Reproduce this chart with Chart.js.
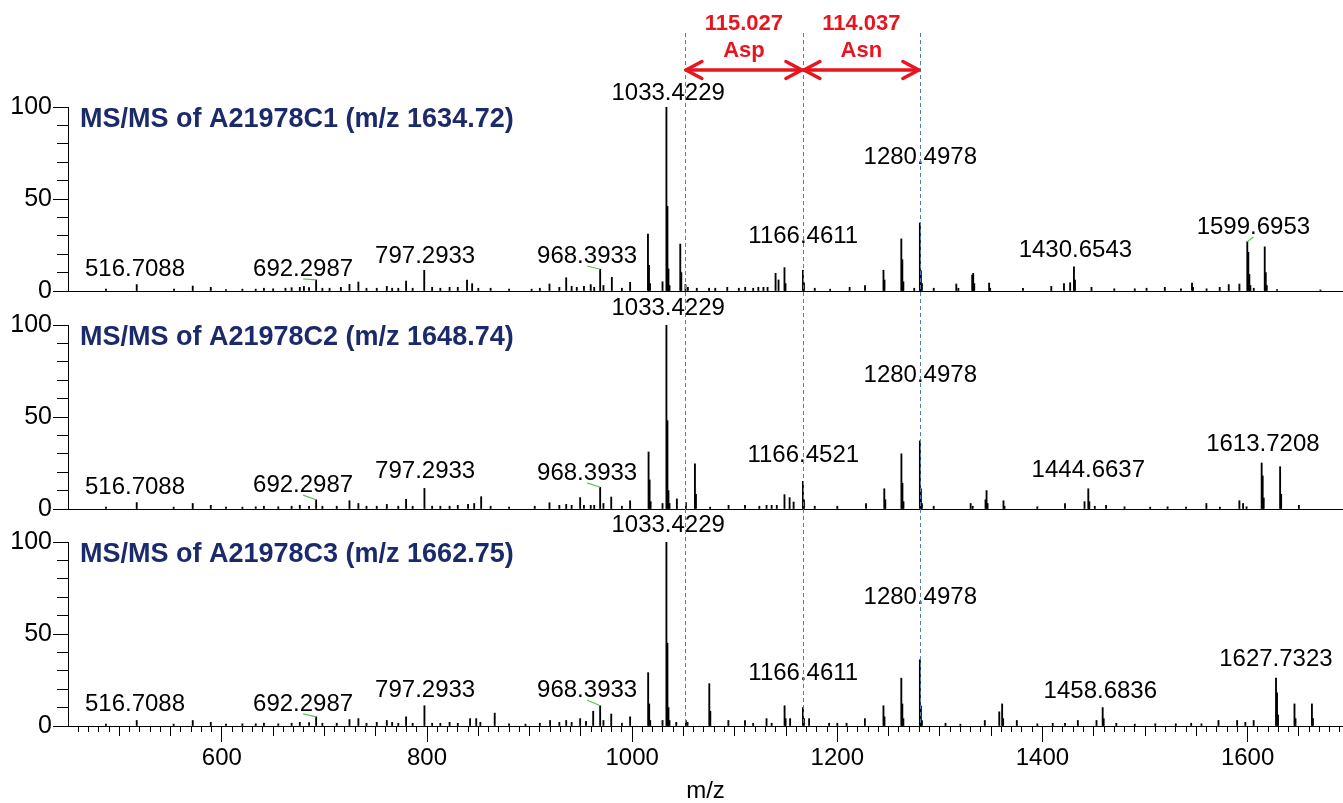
<!DOCTYPE html>
<html>
<head>
<meta charset="utf-8">
<script src="https://cdn.jsdelivr.net/npm/chart.js@4.4.1/dist/chart.umd.min.js"></script>
<style>
html,body{margin:0;padding:0;background:#fff;}
#wrap{position:relative;width:1343px;height:803px;overflow:hidden;background:#fff;}
canvas{position:absolute;left:0;top:0;}
</style>
</head>
<body>
<div id="wrap">
<canvas id="c0" width="1343" height="803"></canvas>
<canvas id="c1" width="1343" height="803"></canvas>
<canvas id="c2" width="1343" height="803"></canvas>
</div>
<script>
// ---------------- DATA ----------------
const xMin = 450, xMax = 1693;
const xTickLabels = [600, 800, 1000, 1200, 1400, 1600];
const yTickLabels = [0, 50, 100];

const titles = [
  'MS/MS of A21978C1 (m/z 1634.72)',
  'MS/MS of A21978C2 (m/z 1648.74)',
  'MS/MS of A21978C3 (m/z 1662.75)'
];

// [m/z, relative intensity %]
const peaks1 = [
 [487,1],[517,3.5],[553.4,1],[571.6,2.7],[589.2,2],[604,0.8],[620,1],[633,1],[641,1.5],[650,1.2],[662,1.5],[668,1.8],[676,2],[680,2.5],[685,1.8],
 [691.9,6],[698,1.5],[705,1.5],[716,2],[724.4,3.6],[733.1,4.9],[741,1.5],[751,1.5],[760.8,2.5],[766,1.5],[772,1.5],[779.6,5.4],[786,1.5],
 [797.3,11.2],[805,2],[813,1.5],[822,2],[830,2],[839,6],[844,4],[850,1.5],[862,1.5],[880,1],[902,1],[910,1.5],[919.4,3.8],[929,2],
 [935.7,7.2],[941,2.5],[946,2],[953,2.5],[959.6,3.5],[963,2],[968.8,11.8],[972,3],[980.2,7.4],[990,1.5],[998,4.7],
 [1015.4,31],[1016.4,14],[1017.4,4],[1029.6,5],[1033.4,100],[1034.4,46],[1035.4,12],[1036.4,3],[1046.9,25.5],[1047.9,10],
 [1052,3.5],[1054.3,2],[1063,1.5],[1075,1.5],[1081,1.5],[1092.7,2],[1104,1.5],[1110.2,2],[1118,1.5],[1123,2],[1128,2],[1132,2],
 [1139.8,9.6],[1142.7,6],[1148.5,12.7],[1149.5,4],[1166.5,11.3],[1167.5,4.5],[1178,1.5],[1193,1],[1212,2],[1227,3],
 [1245,11.3],[1246,6],[1262.4,28.3],[1263.4,17],[1264.4,5],[1275,1.5],[1280.5,37],[1281.5,11],[1282.5,4],[1294,1.5],
 [1316,3.8],[1318,1.5],[1331.5,8.7],[1332.5,9.6],[1333.5,4],[1348,4.3],[1349,1.5],[1381,1.5],[1408.6,2.5],[1421,4],[1427,4.5],
 [1430.7,13.2],[1431.7,6],[1447.8,2],[1470,1.2],[1490,1.2],[1501.5,1.5],[1519.3,2],[1535,1.2],[1545.8,4.3],[1546.8,2],[1560,1.2],
 [1572.8,2],[1581.6,3.5],[1592,3.8],[1599.7,26.8],[1600.7,21],[1601.7,9],[1602.7,3],[1606,1.5],[1616.7,24],[1617.7,10],[1618.7,3],
 [1628.7,0.8],[1671,0.6]
];
const peaks2 = [
 [487,1],[517,3.5],[553,1],[571.6,3],[589.2,2],[604,1],[620,1],[633,1.2],[641,1.5],[655,1.2],[668,1.5],[676,2],[685,1.5],
 [691.9,5],[698,1.5],[712,1.5],[724.4,4.5],[733.1,3],[741,1.5],[751,1.5],[760.8,2.5],[772,1.5],[779.6,5.3],[786,1.5],
 [797.5,11.2],[805,1.5],[813,1.5],[822,1.5],[830,2],[840,2.5],[846,3],[852.8,6.7],[862,1.5],[880,1],[905,1.5],[919.4,3.4],
 [929,2],[935.7,2.5],[941,2],[949.3,6.2],[953,2],[959.6,2],[963,2],[968.8,11.8],[972,3],[979.6,6.5],[990,1.5],[998,4.5],
 [1016,31],[1017,15.8],[1018,4],[1029.6,3],[1033.4,100],[1034.4,48],[1035.4,10],[1036.4,3],[1043.6,5.5],[1052.4,3.5],
 [1061.2,24.5],[1062.2,8],[1076,1],[1094,2],[1110,2],[1124,1.5],[1131,2],[1136,2],[1141,2],[1148.5,7.8],[1153.5,6.2],
 [1157.4,3.8],[1166.5,15],[1167.5,5],[1178,1.5],[1200,1.5],[1228,3],[1245.8,11],[1246.8,5],[1262.5,30],[1263.5,14],
 [1264.5,4],[1280.5,37],[1281.5,11],[1282.5,3],[1294,1.5],[1330,3],[1332,1.5],[1344.5,5],[1345.5,10],[1346.5,3],[1362,4.5],
 [1363,1.5],[1395,1.2],[1422,3],[1441,4],[1444.7,11],[1445.7,4],[1451,1.5],[1462,2],[1480,1.2],[1505,1],[1522,1.2],
 [1540,1],[1559.8,3],[1573,1],[1592,4.5],[1595.6,3],[1599,1.2],[1613.7,25],[1614.7,18],[1615.7,6],[1631.7,23],[1632.7,8],[1650,2]
];
const peaks3 = [
 [487,1],[517,3],[553,1],[571.6,3],[589.2,2],[604,1],[620,1.2],[633,1.2],[641,1.5],[655,1.2],[668,1.5],[676,2],[685,1.8],
 [691.9,5],[698,1.5],[712,1.5],[724.4,3.5],[733.1,4],[741,1.5],[751,2],[760.8,3],[766,2],[772,1.5],[779.6,5],[786,1.5],
 [797.5,11],[805,1.5],[813,1.5],[822,2],[830,1.5],[842,4],[848,4],[852,2],[866,7],[880,1.2],[896,1],[910,1.5],[920,3],
 [929,2],[935.7,3],[941,2],[949.3,4],[955,2.5],[962,8],[968.8,11],[972,3],[979.6,6.5],[990,1.5],[998,5],
 [1015.6,29],[1016.6,12],[1017.6,3],[1029.6,3],[1033.4,100],[1034.4,45],[1035.4,10],[1036.4,3],[1043,2],[1052.4,3],[1054,2],
 [1075.2,23],[1076.2,8],[1093.8,3],[1110,3],[1118,1.5],[1131,4],[1136,1.5],[1148.6,11],[1149.6,4],[1154,4],[1166.5,10],
 [1167.5,4],[1172.5,4],[1192,1.5],[1200,1.5],[1209,1.5],[1226.9,4],[1245,11],[1246,5],[1262.4,26],[1263.4,12],[1264.4,4],
 [1280.5,36],[1281.5,11],[1282.5,3],[1305.5,1.5],[1320,1],[1343.8,3],[1357.9,7.7],[1360.7,12],[1361.7,4],[1375,3],[1395,1.2],
 [1410,1.5],[1422,1.5],[1434.5,3],[1452.7,3],[1458.7,10],[1459.7,4],[1472,1.5],[1490,1],[1510,1.2],[1530,1.2],[1545,1.5],
 [1555,1.2],[1571.6,3],[1589.8,3],[1597.8,2],[1605.9,3],[1627.7,26],[1628.7,18],[1629.7,6],[1645.7,12],[1646.7,4],[1662.7,12],[1663.7,4]
];

// peak label texts and their anchor (m/z, intensity level)
const lblText1 = ['516.7088','692.2987','797.2933','968.3933','1033.4229','1166.4611','1280.4978','1430.6543','1599.6953'];
const lblMz1   = [515.3, 679.2, 798.2, 956.1, 1035.1, 1166.8, 1280.9, 1432.1, 1605.6];
const lblLvl1  = [12, 12, 19, 19, 107.6, 29.9, 72.8, 22.3, 34.8];
const lblText2 = ['516.7088','692.2987','797.2933','968.3933','1033.4229','1166.4521','1280.4978','1444.6637','1613.7208'];
const lblMz2   = [515.3, 679.2, 798.2, 956.1, 1035.1, 1166.8, 1280.9, 1444.7, 1614.9];
const lblLvl2  = [12, 13, 20.7, 19.6, 109.2, 29.3, 72.8, 21.2, 35.3];
const lblText3 = ['516.7088','692.2987','797.2933','968.3933','1033.4229','1166.4611','1280.4978','1458.6836','1627.7323'];
const lblMz3   = [515.3, 679.2, 798.2, 956.1, 1035.1, 1166.8, 1280.9, 1456.4, 1627.6];
const lblLvl3  = [12, 12, 19.6, 19.6, 109.2, 28.8, 70.1, 19, 36.4];

// residue-gap annotation
const markerMz   = [1051.43, 1166.46, 1280.50];
const gapMass    = ['115.027', '114.037'];
const gapResidue = ['Asp', 'Asn'];
const annotLevels = { massText: 145.2, resText: 130.2, arrow: 120.1, dashTop: 140.2, title: 93 };

// --------------- LAYOUT / STYLE ---------------
const W = 1343, H = 803;
const panelTop = [107, 325, 542];
const panelBottom = [291, 509, 726];
const FONT = '"Liberation Sans", Arial, Helvetica, sans-serif';
const peaksAll = [peaks1, peaks2, peaks3];
const lblTexts = [lblText1, lblText2, lblText3];
const lblMzs = [lblMz1, lblMz2, lblMz3];
const lblLvls = [lblLvl1, lblLvl2, lblLvl3];

function range(a, b, step) { const r = []; for (let v = a; v <= b + 1e-9; v += step) r.push(v); return r; }
const yMinorTicks = range(0, 100, 10);
const xMidTicks = range(500, 1690, 50);
const xMinorTicks = range(460, 1690, 10);

const charts = [];

function panelPlugin(i) {
  return {
    id: 'panel' + i,
    afterDatasetsDraw(chart) {
      const ctx = chart.ctx, xs = chart.scales.x, ys = chart.scales.y;
      ctx.save();
      // title
      ctx.font = 'bold 27px ' + FONT;
      ctx.fillStyle = '#1b2a6b';
      ctx.textAlign = 'left';
      ctx.textBaseline = 'middle';
      ctx.fillText(titles[i], chart.chartArea.left + 12, ys.getPixelForValue(annotLevels.title));
      // peak labels
      ctx.font = '24px ' + FONT;
      ctx.textAlign = 'center';
      const pk = peaksAll[i];
      lblTexts[i].forEach((t, k) => {
        const lx = xs.getPixelForValue(lblMzs[i][k]);
        const ly = ys.getPixelForValue(lblLvls[i][k]);
        const target = parseFloat(t);
        if (Math.abs(target - lblMzs[i][k]) > 5) {
          let best = pk[0];
          pk.forEach(p => { if (Math.abs(p[0] - target) < Math.abs(best[0] - target)) best = p; });
          ctx.strokeStyle = '#5fbf5c';
          ctx.lineWidth = 1.2;
          ctx.beginPath();
          ctx.moveTo(lx, ly + 10);
          ctx.lineTo(xs.getPixelForValue(best[0]), ys.getPixelForValue(best[1]));
          ctx.stroke();
        }
        ctx.fillStyle = '#000';
        ctx.fillText(t, lx, ly);
      });
      ctx.restore();
    }
  };
}

const annotPlugin = {
  id: 'annot',
  afterDraw(chart) {
    const ctx = chart.ctx, xs = chart.scales.x;
    const yTop = charts[0].scales.y;
    const yBot = chart.scales.y;
    ctx.save();
    // dashed marker lines
    ctx.strokeStyle = '#4a7cc4';
    ctx.lineWidth = 1;
    ctx.setLineDash([4, 3]);
    const top = yTop.getPixelForValue(annotLevels.dashTop);
    const bot = yBot.getPixelForValue(0);
    markerMz.forEach(m => {
      const x = Math.round(xs.getPixelForValue(m)) + 0.5;
      ctx.beginPath(); ctx.moveTo(x, top); ctx.lineTo(x, bot); ctx.stroke();
    });
    ctx.setLineDash([]);
    // red arrows + text
    const red = '#e8141e';
    const ay = yTop.getPixelForValue(annotLevels.arrow);
    ctx.strokeStyle = red; ctx.fillStyle = red;
    ctx.lineWidth = 3.5; ctx.lineCap = 'round'; ctx.lineJoin = 'round';
    for (let k = 0; k < markerMz.length - 1; k++) {
      const x1 = xs.getPixelForValue(markerMz[k]) + 1;
      const x2 = xs.getPixelForValue(markerMz[k + 1]) - 1;
      ctx.beginPath(); ctx.moveTo(x1, ay); ctx.lineTo(x2, ay); ctx.stroke();
      ctx.beginPath();
      ctx.moveTo(x1 + 16, ay - 8.5); ctx.lineTo(x1, ay); ctx.lineTo(x1 + 16, ay + 8.5);
      ctx.moveTo(x2 - 16, ay - 8.5); ctx.lineTo(x2, ay); ctx.lineTo(x2 - 16, ay + 8.5);
      ctx.stroke();
      const mx = (xs.getPixelForValue(markerMz[k]) + xs.getPixelForValue(markerMz[k + 1])) / 2;
      ctx.font = 'bold 22px ' + FONT;
      ctx.textAlign = 'center'; ctx.textBaseline = 'middle';
      ctx.fillText(gapMass[k], mx, yTop.getPixelForValue(annotLevels.massText));
      ctx.fillText(gapResidue[k], mx, yTop.getPixelForValue(annotLevels.resText));
    }
    ctx.restore();
  }
};

function makeChart(i) {
  const isBottom = i === 2;
  const scales = {
    x: {
      type: 'linear', min: xMin, max: xMax, offset: false, position: 'bottom',
      afterBuildTicks: s => { s.ticks = xTickLabels.map(v => ({ value: v })); },
      afterFit: s => { s.height = isBottom ? H - panelBottom[i] : 0; },
      ticks: { display: isBottom, autoSkip: false, maxRotation: 0, padding: 2, color: '#000',
               font: { family: FONT, size: 24 }, callback: v => String(v) },
      grid: { display: isBottom, drawOnChartArea: false, tickLength: 16, tickColor: '#000', tickWidth: 1, offset: false },
      border: { display: true, color: '#000', width: 1 },
      title: { display: isBottom, text: 'm/z', color: '#000', font: { family: FONT, size: 24 }, padding: { top: 0, bottom: -3 } }
    },
    y: {
      type: 'linear', min: 0, max: 100, position: 'left',
      afterBuildTicks: s => { s.ticks = yTickLabels.map(v => ({ value: v })); },
      afterFit: s => { s.width = 68; },
      ticks: { padding: 1, color: '#000', font: { family: FONT, size: 25 }, callback: v => String(v) },
      grid: { drawOnChartArea: false, tickLength: 15, tickColor: '#000', tickWidth: 1 },
      border: { display: true, color: '#000', width: 1 }
    },
    yMinor: {
      axis: 'y', type: 'linear', min: 0, max: 100, position: { x: xMin },
      afterBuildTicks: s => { s.ticks = yMinorTicks.map(v => ({ value: v })); },
      ticks: { display: false },
      grid: { drawOnChartArea: false, tickLength: 11, tickColor: '#000', tickWidth: 1 },
      border: { display: false }
    }
  };
  if (isBottom) {
    scales.xMid = {
      axis: 'x', type: 'linear', min: xMin, max: xMax, offset: false, position: { y: 0 },
      afterBuildTicks: s => { s.ticks = xMidTicks.map(v => ({ value: v })); },
      ticks: { display: false },
      grid: { drawOnChartArea: false, tickLength: 10, tickColor: '#000', tickWidth: 1, offset: false },
      border: { display: false }
    };
    scales.xMinor = {
      axis: 'x', type: 'linear', min: xMin, max: xMax, offset: false, position: { y: 0 },
      afterBuildTicks: s => { s.ticks = xMinorTicks.map(v => ({ value: v })); },
      ticks: { display: false },
      grid: { drawOnChartArea: false, tickLength: 6, tickColor: '#000', tickWidth: 1, offset: false },
      border: { display: false }
    };
  }
  const plugins = [panelPlugin(i)];
  if (isBottom) plugins.push(annotPlugin);
  const ch = new Chart(document.getElementById('c' + i), {
    type: 'bar',
    data: {
      datasets: [{
        data: peaksAll[i].map(p => ({ x: p[0], y: p[1] })),
        backgroundColor: '#000', borderWidth: 0, barThickness: 1.2, grouped: false,
        xAxisID: 'x', yAxisID: 'y'
      }]
    },
    options: {
      responsive: false, animation: false, devicePixelRatio: 1, events: [],
      layout: { padding: { top: panelTop[i], bottom: isBottom ? 0 : H - panelBottom[i], left: 0, right: 0 } },
      scales: scales,
      plugins: { legend: { display: false }, tooltip: { enabled: false }, title: { display: false } }
    },
    plugins: plugins
  });
  charts.push(ch);
}

makeChart(0);
makeChart(1);
makeChart(2);
</script>
</body>
</html>
